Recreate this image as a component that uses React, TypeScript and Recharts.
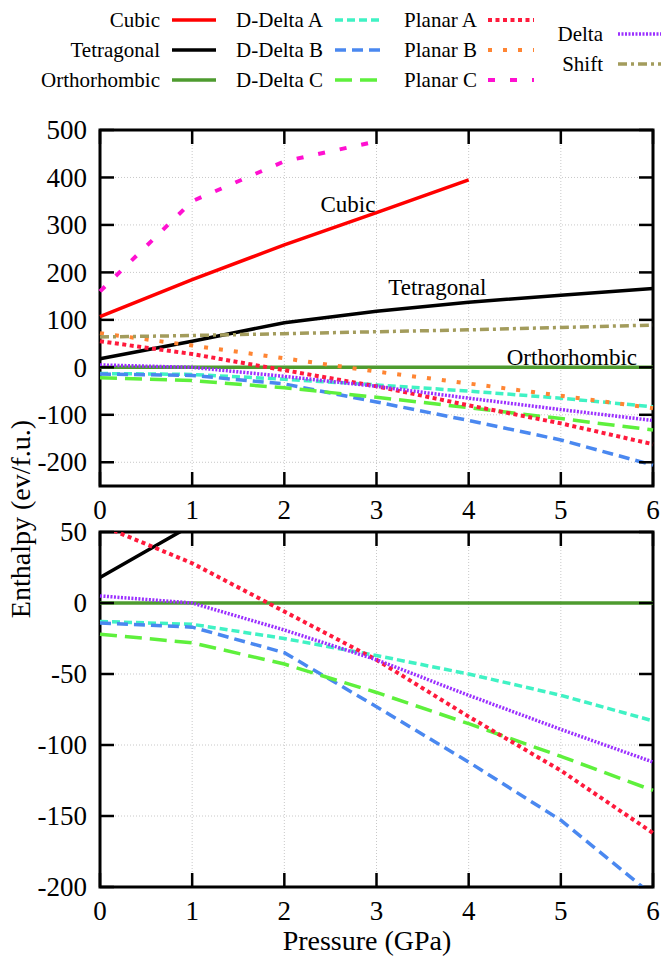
import React from 'react';
import { LineChart, Line, XAxis, YAxis, CartesianGrid, ReferenceArea, ReferenceDot } from 'recharts';

const FONT = "'Liberation Serif', 'Times New Roman', serif";

// data (Enthalpy in ev/f.u. vs Pressure in GPa)
const pressure = [0, 1, 2, 3, 4, 5, 6];
const cubic = [107, 185, 258, 326, 395, null, null];
const tetragonal = [18, 55, 94, 118, 137, 152, 166];
const orthorhombic = [0, 0, 0, 0, 0, 0, 0];
const dDeltaA = [-13, -15, -25, -37, -50, -65, -83];
const dDeltaB = [-14, -17, -35, -73, -112, -153, -206];
const dDeltaC = [-22, -28, -43, -63, -85, -108, -132];
const planarA = [55, 28, -6, -40, -80, -118, -162];
const planarB = [72, 46, 19, -9, -34, -60, -86];
const planarC = [160, 350, 434, 476, null, null, null];
const delta = [5, 0, -19, -40, -65, -89, -112];
const shift = [64, 67, 71, 75, 79, 84, 89];

const xTicks = [0, 1, 2, 3, 4, 5, 6];
const topYTicks = [-200, -100, 0, 100, 200, 300, 400, 500];
const bottomYTicks = [-200, -150, -100, -50, 0, 50];

const series = [
  { key: 'cubic', name: 'Cubic', values: cubic, color: '#ff0000', width: 3.5, dash: undefined },
  { key: 'tetragonal', name: 'Tetragonal', values: tetragonal, color: '#000000', width: 3.5, dash: undefined },
  { key: 'orthorhombic', name: 'Orthorhombic', values: orthorhombic, color: '#4e9b2f', width: 3.5, dash: undefined },
  { key: 'dDeltaA', name: 'D-Delta A', values: dDeltaA, color: '#40f2c4', width: 3.5, dash: '8 4' },
  { key: 'dDeltaB', name: 'D-Delta B', values: dDeltaB, color: '#4a88f0', width: 3.5, dash: '11 6' },
  { key: 'dDeltaC', name: 'D-Delta C', values: dDeltaC, color: '#5ef03c', width: 3.5, dash: '17 8' },
  { key: 'planarA', name: 'Planar A', values: planarA, color: '#ff1a3c', width: 4, dash: '4 3.5' },
  { key: 'planarB', name: 'Planar B', values: planarB, color: '#ff8533', width: 4, dash: '4 11' },
  { key: 'planarC', name: 'Planar C', values: planarC, color: '#ff10d0', width: 4, dash: '7 15' },
  { key: 'delta', name: 'Delta', values: delta, color: '#9b30ff', width: 3.5, dash: '2 1.5' },
  { key: 'shift', name: 'Shift', values: shift, color: '#a39c5c', width: 3.5, dash: '9 4 3 4' },
];

const bottomKeys = ['tetragonal', 'orthorhombic', 'dDeltaA', 'dDeltaB', 'dDeltaC', 'planarA', 'delta'];

const rows = pressure.map((p, i) => {
  const r: any = { p };
  series.forEach((s) => (r[s.key] = s.values[i]));
  return r;
});

// legend layout: columns of items
const legendCols = [
  { keys: ['cubic', 'tetragonal', 'orthorhombic'], textRight: 160, x1: 172, x2: 216, rows: [20, 50, 80] },
  { keys: ['dDeltaA', 'dDeltaB', 'dDeltaC'], textRight: 323, x1: 335, x2: 380, rows: [20, 50, 80] },
  { keys: ['planarA', 'planarB', 'planarC'], textRight: 477, x1: 488, x2: 534, rows: [20, 50, 80] },
  { keys: ['delta', 'shift'], textRight: 603, x1: 618, x2: 661, rows: [34, 64] },
];

const annotations = [
  { text: 'Cubic', x: 2.69, y: 345 },
  { text: 'Tetragonal', x: 3.66, y: 169 },
  { text: 'Orthorhombic', x: 5.12, y: 22 },
];

const W = 661;
const PL = 100;
const PR = 653;
const TICK = 14;
const txt = { fontFamily: FONT };

const makeXTick = (top: number, bottom: number) => (props: any) => {
  const { x, payload } = props;
  return (
    <g>
      <line x1={x} x2={x} y1={bottom} y2={bottom - TICK} stroke="#000" strokeWidth={2.5} />
      <line x1={x} x2={x} y1={top} y2={top + TICK} stroke="#000" strokeWidth={2.5} />
      <text x={x} y={bottom + 33} textAnchor="middle" fontSize={27} style={txt} fill="#000">
        {payload.value}
      </text>
    </g>
  );
};

const makeYTick = () => (props: any) => {
  const { y, payload } = props;
  return (
    <g>
      <line x1={PL} x2={PL + TICK} y1={y} y2={y} stroke="#000" strokeWidth={2.5} />
      <line x1={PR} x2={PR - TICK} y1={y} y2={y} stroke="#000" strokeWidth={2.5} />
      <text x={PL - 13} y={y} dy="0.34em" textAnchor="end" fontSize={27} style={txt} fill="#000">
        {payload.value}
      </text>
    </g>
  );
};

const renderLines = (keys: string[]) =>
  series
    .filter((s) => keys.includes(s.key))
    .map((s) => (
      <Line
        key={s.key}
        type="linear"
        dataKey={s.key}
        name={s.name}
        stroke={s.color}
        strokeWidth={s.width}
        strokeDasharray={s.dash}
        dot={false}
        activeDot={false}
        isAnimationActive={false}
      />
    ));

export default function App() {
  return (
    <div style={{ position: 'absolute', left: 0, top: 0, width: W, height: 956, background: '#fff', fontFamily: FONT }}>
      <div style={{ position: 'absolute', left: 0, top: 0 }}>
        <LineChart width={W} height={530} data={rows} margin={{ top: 130, right: 8, bottom: 0, left: 0 }}>
          <CartesianGrid stroke="#c8c8c8" strokeDasharray="1 2" />
          <XAxis
            dataKey="p"
            type="number"
            domain={[0, 6]}
            ticks={xTicks}
            height={44}
            axisLine={false}
            tickLine={false}
            tickSize={0}
            tick={makeXTick(130, 486)}
          />
          <YAxis
            type="number"
            domain={[-250, 500]}
            ticks={topYTicks}
            width={100}
            axisLine={false}
            tickLine={false}
            tickSize={0}
            tick={makeYTick()}
            allowDataOverflow
          />
          {renderLines(series.map((s) => s.key))}
          {annotations.map((a) => (
            <ReferenceDot
              key={a.text}
              x={a.x}
              y={a.y}
              r={0}
              fill="none"
              stroke="none"
              label={{ value: a.text, position: 'center', fontSize: 23, style: txt, fill: '#000' }}
            />
          ))}
          <ReferenceArea x1={0} x2={6} y1={-250} y2={500} fill="none" stroke="#000" strokeWidth={3} ifOverflow="visible" />
        </LineChart>
      </div>
      <div style={{ position: 'absolute', left: 0, top: 510 }}>
        <LineChart width={W} height={446} data={rows} margin={{ top: 22, right: 8, bottom: 0, left: 0 }}>
          <CartesianGrid stroke="#c8c8c8" strokeDasharray="1 2" />
          <XAxis
            dataKey="p"
            type="number"
            domain={[0, 6]}
            ticks={xTicks}
            height={69}
            axisLine={false}
            tickLine={false}
            tickSize={0}
            tick={makeXTick(22, 377)}
          />
          <YAxis
            type="number"
            domain={[-200, 50]}
            ticks={bottomYTicks}
            width={100}
            axisLine={false}
            tickLine={false}
            tickSize={0}
            tick={makeYTick()}
            allowDataOverflow
          />
          {renderLines(bottomKeys)}
          <ReferenceArea x1={0} x2={6} y1={-200} y2={50} fill="none" stroke="#000" strokeWidth={3} ifOverflow="visible" />
        </LineChart>
      </div>
      <svg width={W} height={956} style={{ position: 'absolute', left: 0, top: 0, pointerEvents: 'none', fontFamily: FONT }}>
        {legendCols.map((col) =>
          col.keys.map((k, i) => {
            const s = series.find((d) => d.key === k)!;
            const y = col.rows[i];
            return (
              <g key={k}>
                <text x={col.textRight} y={y} dy="0.33em" textAnchor="end" fontSize={21} style={txt} fill="#000">
                  {s.name}
                </text>
                <line x1={col.x1} x2={col.x2} y1={y} y2={y} stroke={s.color} strokeWidth={s.width} strokeDasharray={s.dash} />
              </g>
            );
          })
        )}
        <text x={30} y={519} transform="rotate(-90, 30, 519)" textAnchor="middle" fontSize={28} style={txt} fill="#000">
          Enthalpy (ev/f.u.)
        </text>
        <text x={367} y={950} textAnchor="middle" fontSize={28} style={txt} fill="#000">
          Pressure (GPa)
        </text>
      </svg>
    </div>
  );
}
